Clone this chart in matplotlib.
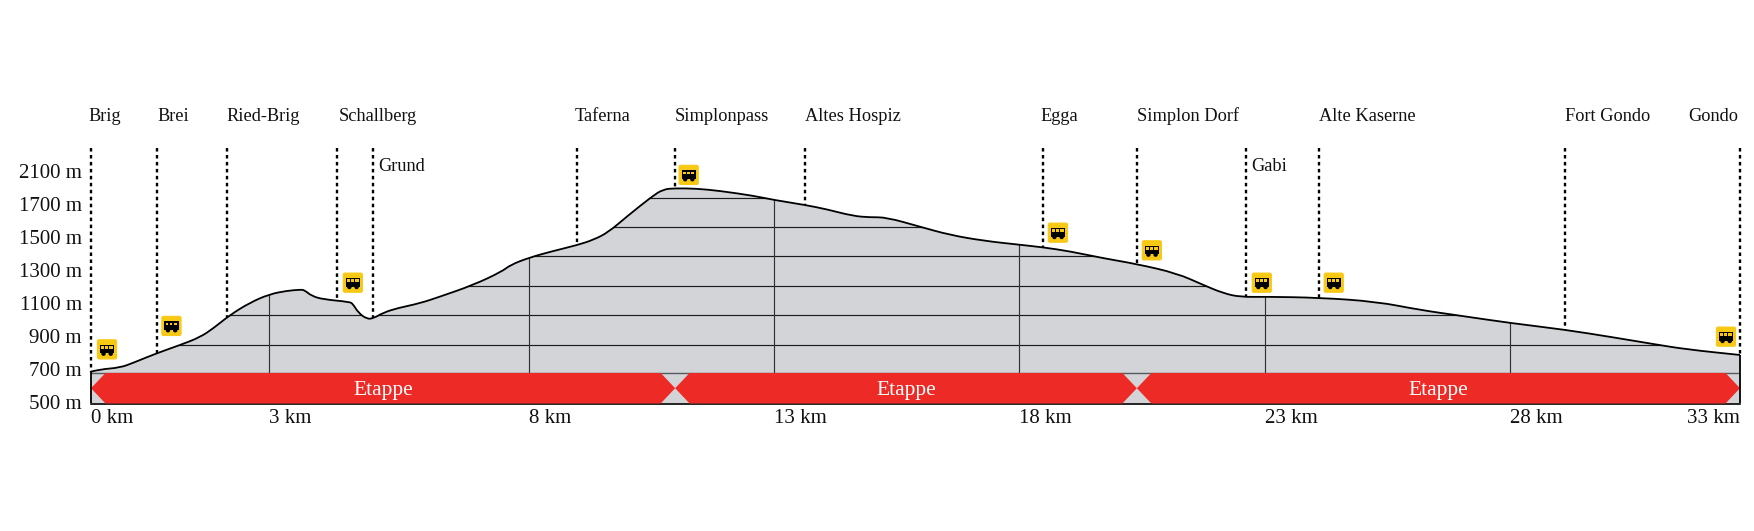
import numpy as np
import matplotlib
matplotlib.use('Agg')
import matplotlib.pyplot as plt
from matplotlib.offsetbox import AnnotationBbox, DrawingArea
from matplotlib.patches import Circle, FancyBboxPatch, PathPatch, Polygon, Rectangle
from matplotlib.path import Path

plt.rcParams['font.family'] = ['Liberation Serif', 'DejaVu Serif']

# Elevation profile (distance along the axis, metres)
profile_km = [0, 0.18, 0.58, 0.85, 1.31, 1.78, 2.18, 2.45, 2.78, 3.18, 3.57, 3.92, 4.2, 4.27,
              4.42, 4.65, 5.17, 5.24, 5.35, 5.52, 5.65, 5.85, 6.12, 6.58, 6.98, 7.65, 8.22,
              8.39, 8.76, 9.25, 9.72, 10.05, 10.35, 10.72, 11.22, 11.45, 11.69, 12.12,
              12.59, 13.25, 13.67, 14.29, 14.72, 15.25, 15.59, 15.92, 16.59, 17.19,
              17.86, 18.58, 19.06, 19.59, 20.26, 20.93, 21.73, 22.26, 22.66, 23.0, 23.5,
              24.6, 25.73, 26.59, 27.4, 28.39, 29.5, 30.46, 31.27, 31.93, 33]
profile_m = [684, 698, 708, 738, 795, 845, 892, 947, 1027, 1102, 1153, 1174, 1181, 1178,
             1142, 1122, 1107, 1095, 1041, 1003, 1007, 1041, 1068, 1098, 1138, 1209, 1290,
             1330, 1374, 1415, 1450, 1482, 1528, 1623, 1744, 1789, 1795, 1793,
             1779, 1750, 1724, 1694, 1668, 1627, 1619, 1619, 1562, 1512,
             1477, 1453, 1437, 1413, 1371, 1336, 1280, 1209, 1159, 1136, 1138,
             1132, 1108, 1058, 1023, 979, 938, 892, 851, 819, 785]

# Places along the route
stations = ['Brig', 'Brei', 'Ried-Brig', 'Schallberg', 'Taferna', 'Simplonpass',
            'Altes Hospiz', 'Egga', 'Simplon Dorf', 'Alte Kaserne', 'Fort Gondo', 'Gondo']
station_km = [0, 1.32, 2.72, 4.92, 9.72, 11.69, 14.29, 19.05, 20.93, 24.57, 29.5, 33]
side_stations = ['Grund', 'Gabi']
side_km = [5.64, 23.11]

# Bus stops
bus_km = [0.32, 1.61, 5.24, 11.96, 19.35, 21.23, 23.43, 24.87, 32.72]
bus_m = [819, 961, 1223, 1876, 1526, 1419, 1223, 1223, 896]

# Axis labels
y_ticks = [500, 700, 900, 1100, 1300, 1500, 1700, 1900]
y_labels = ['500 m', '700 m', '900 m', '1100 m', '1300 m', '1500 m', '1700 m', '2100 m']
x_ticks = [0, 3.57, 8.76, 13.67, 18.58, 23.49, 28.39, 33]
x_labels = ['0 km', '3 km', '8 km', '13 km', '18 km', '23 km', '28 km', '33 km']

# Lines inside the profile
grid_m = [847, 1025, 1203, 1383, 1559, 1734]
grid_km = [3.57, 8.76, 13.67, 18.58, 23.49, 28.39]

# Stage bands
etappe_km = [0, 11.69, 20.93, 33]
etappe_label = 'Etappe'

RED = '#EE2A26'
GRAY = '#D2D4D7'
YELLOW = '#F8C914'
BOTTOM = 491
BAND_TOP = 676
TOP = 2039

# small nudges for the labels that don't start exactly on their line
NUDGE = {'Brig': -1.5, 'Taferna': -1.5, 'Egga': -1.5, 'Schallberg': 1.5, 'Gondo': -1.0}


def bus_icon():
    # 20 px yellow tile with a small black bus on it
    s = 15
    box = DrawingArea(s, s, 0, 0)
    box.add_artist(FancyBboxPatch((0.6, 0.6), s - 1.2, s - 1.2, boxstyle='round,pad=0,rounding_size=1.2',
                                  fc=YELLOW, ec=YELLOW, lw=0.8))
    box.add_artist(Rectangle((2.4, 4.6), 10.2, 6.2, fc='black', lw=0))
    box.add_artist(Rectangle((3.4, 8.0), 1.9, 1.8, fc=YELLOW, lw=0))
    box.add_artist(Rectangle((6.3, 8.0), 1.9, 1.8, fc=YELLOW, lw=0))
    box.add_artist(Rectangle((9.2, 8.0), 2.4, 1.8, fc=YELLOW, lw=0))
    box.add_artist(Circle((5.0, 4.4), 1.6, fc='black', lw=0))
    box.add_artist(Circle((10.2, 4.4), 1.6, fc='black', lw=0))
    return box


def smooth_path(xs, ys):
    # quadratic curve with the read points as control points, rounds off the corners
    pts = np.column_stack([xs, ys])
    mids = (pts[:-1] + pts[1:]) / 2
    verts = [pts[0]]
    codes = [Path.MOVETO]
    for ctrl, end in zip(pts[1:-1], mids[1:]):
        verts += [ctrl, end]
        codes += [Path.CURVE3, Path.CURVE3]
    verts.append(pts[-1])
    codes.append(Path.LINETO)
    return Path(verts, codes)


fig = plt.figure(figsize=(17.54, 5.31), dpi=100)
ax = fig.add_axes([91 / 1754, 127.5 / 531, 1649 / 1754, 255.5 / 531])
ax.set_xlim(0, 33)
ax.set_ylim(BOTTOM, TOP)

# Profile, with the inner lines clipped to it
outline = smooth_path(profile_km, profile_m)
fill_verts = np.vstack([[[0, BOTTOM]], outline.vertices, [[33, BOTTOM], [0, BOTTOM]]])
fill_codes = [Path.MOVETO, Path.LINETO] + list(outline.codes[1:]) + [Path.LINETO, Path.CLOSEPOLY]
fill = PathPatch(Path(fill_verts, fill_codes), fc=GRAY, ec='none', zorder=1)
ax.add_patch(fill)
for level in grid_m:
    line = ax.hlines(level, 0, 33, color='#1c1c1c', lw=0.85, zorder=2)
    line.set_clip_path(fill)
for km in grid_km:
    line = ax.vlines(km, BOTTOM, TOP, color='#333333', lw=0.85, zorder=2)
    line.set_clip_path(fill)
ax.add_patch(PathPatch(outline, fc='none', ec='black', lw=1.3, zorder=4))

# Stage bands with arrow ends
tip = 0.29
mid = (BAND_TOP + BOTTOM) / 2
ax.hlines(BAND_TOP, 0, 33, color='#555a5e', lw=1.0, zorder=3)
for start, end in zip(etappe_km[:-1], etappe_km[1:]):
    band = [(start + tip, BAND_TOP), (end - tip, BAND_TOP), (end, mid),
            (end - tip, BOTTOM), (start + tip, BOTTOM), (start, mid)]
    ax.add_patch(Polygon(band, closed=True, fc=RED, ec='none', zorder=3))
    ax.annotate(etappe_label, ((start + end) / 2, mid), xytext=(0, -1.5), textcoords='offset points',
                color='white', fontsize=15.5, ha='center', va='center', zorder=5)

# Frame around the bottom part
ax.vlines([0, 33], BOTTOM, [profile_m[0], profile_m[-1]], color='black', lw=1.3, zorder=5, clip_on=False)

# Dotted lines from the top down to the profile
all_km = station_km + side_km
tops = np.interp(all_km, profile_km, profile_m)
for km, foot in zip(all_km, tops):
    ax.plot([km, km], [TOP, foot], color='black', lw=1.7, linestyle=(0, (1.5, 1.45)),
            zorder=3, clip_on=False)

for name, km in zip(stations, station_km):
    ha = 'right' if name == 'Gondo' else 'left'
    ax.annotate(name, (km, TOP), xytext=(NUDGE.get(name, 0), 23), textcoords='offset points', fontsize=13.2,
                ha=ha, va='center', color='#111111', annotation_clip=False)
for name, km in zip(side_stations, side_km):
    ax.annotate(name, (km, TOP), xytext=(3.6, -13.4), textcoords='offset points', fontsize=13.2,
                ha='left', va='center', color='#111111', annotation_clip=False)

for km, m in zip(bus_km, bus_m):
    ab = AnnotationBbox(bus_icon(), (km, m), frameon=False, pad=0, box_alignment=(0.5, 0.5),
                        annotation_clip=False, zorder=6)
    ax.add_artist(ab)

# Axes
ax.set_yticks(y_ticks)
ax.set_yticklabels(y_labels, fontsize=15, color='#111111')
ax.set_xticks(x_ticks)
ax.set_xticklabels(x_labels, fontsize=15, color='#111111')
for label in ax.get_xticklabels():
    label.set_ha('right' if label.get_text() == '33 km' else 'left')
ax.tick_params(axis='both', length=0)
ax.tick_params(axis='y', pad=6.5)
ax.tick_params(axis='x', pad=4.2)
for side in ['top', 'left', 'right']:
    ax.spines[side].set_visible(False)
ax.spines['bottom'].set_linewidth(1.2)
ax.patch.set_visible(False)

fig.savefig('out.png', dpi=100)
